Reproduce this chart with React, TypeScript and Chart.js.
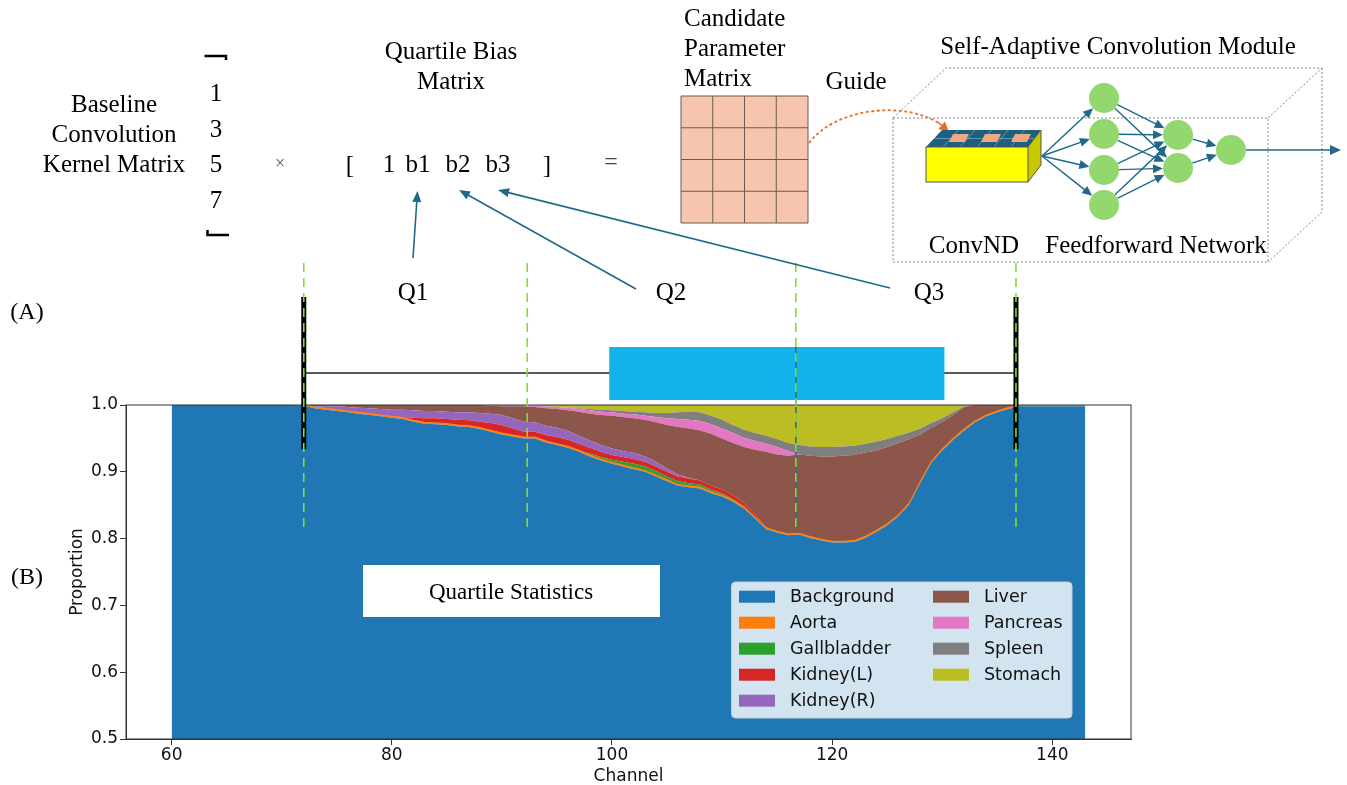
import React, { useEffect, useRef } from "react";
import { Chart, registerables } from "chart.js";

Chart.register(...registerables);

// ---------------- DATA ----------------
const CHANNEL_START = 60;
const CHANNEL_END = 143;
const channels: number[] = [];
for (let c = CHANNEL_START; c <= CHANNEL_END; c++) channels.push(c);

const seriesNames = [
  "Background", "Aorta", "Gallbladder", "Kidney(L)", "Kidney(R)",
  "Liver", "Pancreas", "Spleen", "Stomach",
];
const seriesColors = [
  "#1f77b4", "#ff7f0e", "#2ca02c", "#d62728", "#9467bd",
  "#8c564b", "#e377c2", "#7f7f7f", "#bcbd22",
];

// proportions per channel 60..143 (rows = decades)
const background = [
  1, 1, 1, 1, 1, 1, 1, 1, 1, 1,
  1, 1, 0.999, 0.995, 0.993, 0.991, 0.989, 0.987, 0.985, 0.983,
  0.981, 0.979, 0.975, 0.972, 0.971, 0.970, 0.968, 0.967, 0.964, 0.960,
  0.956, 0.953, 0.950, 0.950, 0.944, 0.940, 0.936, 0.930, 0.923, 0.917,
  0.912, 0.908, 0.904, 0.900, 0.893, 0.886, 0.879, 0.877, 0.875, 0.868,
  0.863, 0.855, 0.845, 0.830, 0.814, 0.809, 0.805, 0.806, 0.801, 0.797,
  0.794, 0.794, 0.795, 0.801, 0.810, 0.820, 0.833, 0.851, 0.883, 0.913,
  0.932, 0.948, 0.962, 0.974, 0.983, 0.989, 0.994, 0.998, 0.998, 0.998,
  0.998, 0.998, 0.998, 0.998,
];
const aorta = [
  0, 0, 0, 0, 0, 0, 0, 0, 0, 0,
  0, 0, 0.001, 0.002, 0.002, 0.002, 0.002, 0.002, 0.002, 0.002,
  0.002, 0.002, 0.002, 0.002, 0.002, 0.002, 0.002, 0.002, 0.002, 0.002,
  0.002, 0.002, 0.002, 0.002, 0.002, 0.002, 0.002, 0.002, 0.002, 0.002,
  0.002, 0.002, 0.002, 0.002, 0.002, 0.002, 0.002, 0.002, 0.002, 0.002,
  0.002, 0.002, 0.002, 0.002, 0.002, 0.002, 0.002, 0.002, 0.002, 0.002,
  0.002, 0.002, 0.002, 0.002, 0.002, 0.002, 0.002, 0.002, 0.002, 0.002,
  0.002, 0.002, 0.002, 0.002, 0.002, 0.002, 0.002, 0.002, 0.002, 0.002,
  0.002, 0.002, 0.002, 0.002,
];
const gallbladder = [
  0, 0, 0, 0, 0, 0, 0, 0, 0, 0,
  0, 0, 0, 0, 0, 0, 0, 0, 0, 0,
  0, 0, 0, 0, 0, 0, 0, 0, 0, 0,
  0, 0, 0, 0, 0, 0, 0, 0, 0.002, 0.003,
  0.004, 0.005, 0.006, 0.006, 0.006, 0.005, 0.005, 0.004, 0.004, 0.003,
  0.003, 0.002, 0.001, 0, 0, 0, 0, 0, 0, 0,
  0, 0, 0, 0, 0, 0, 0, 0, 0, 0,
  0, 0, 0, 0, 0, 0, 0, 0, 0, 0,
  0, 0, 0, 0,
];
const kidneyL = [
  0, 0, 0, 0, 0, 0, 0, 0, 0, 0,
  0, 0, 0, 0, 0, 0, 0, 0, 0, 0,
  0, 0.001, 0.004, 0.006, 0.007, 0.007, 0.008, 0.008, 0.009, 0.011,
  0.012, 0.010, 0.008, 0.008, 0.009, 0.010, 0.010, 0.010, 0.009, 0.008,
  0.007, 0.007, 0.007, 0.007, 0.007, 0.007, 0.007, 0.007, 0.006, 0.006,
  0.006, 0.006, 0.005, 0.004, 0.001, 0, 0, 0, 0, 0,
  0, 0, 0, 0, 0, 0, 0, 0, 0, 0,
  0, 0, 0, 0, 0, 0, 0, 0, 0, 0,
  0, 0, 0, 0,
];
const kidneyR = [
  0, 0, 0, 0, 0, 0, 0, 0, 0, 0,
  0, 0, 0, 0.001, 0.003, 0.005, 0.006, 0.007, 0.008, 0.009,
  0.010, 0.011, 0.011, 0.011, 0.011, 0.011, 0.011, 0.012, 0.013, 0.014,
  0.015, 0.015, 0.015, 0.014, 0.014, 0.014, 0.013, 0.012, 0.011, 0.010,
  0.010, 0.009, 0.009, 0.008, 0.007, 0.005, 0.003, 0.001, 0, 0,
  0, 0, 0, 0, 0, 0, 0, 0, 0, 0,
  0, 0, 0, 0, 0, 0, 0, 0, 0, 0,
  0, 0, 0, 0, 0, 0, 0, 0, 0, 0,
  0, 0, 0, 0,
];
const liver = [
  0, 0, 0, 0, 0, 0, 0, 0, 0, 0,
  0, 0, 0, 0.002, 0.002, 0.002, 0.003, 0.004, 0.005, 0.006,
  0.007, 0.007, 0.008, 0.009, 0.009, 0.010, 0.011, 0.011, 0.012, 0.012,
  0.013, 0.018, 0.023, 0.023, 0.026, 0.028, 0.031, 0.036, 0.040, 0.045,
  0.049, 0.051, 0.052, 0.055, 0.059, 0.065, 0.071, 0.074, 0.075, 0.078,
  0.076, 0.078, 0.084, 0.097, 0.113, 0.115, 0.117, 0.118, 0.121, 0.124,
  0.127, 0.128, 0.128, 0.126, 0.120, 0.115, 0.108, 0.096, 0.071, 0.051,
  0.041, 0.035, 0.033, 0.024, 0.015, 0.009, 0.004, 0, 0, 0,
  0, 0, 0, 0,
];
const pancreas = [
  0, 0, 0, 0, 0, 0, 0, 0, 0, 0,
  0, 0, 0, 0, 0, 0, 0, 0, 0, 0,
  0, 0, 0, 0, 0, 0, 0, 0, 0, 0.001,
  0.002, 0.002, 0.002, 0.002, 0.003, 0.003, 0.004, 0.004, 0.005, 0.005,
  0.005, 0.005, 0.006, 0.006, 0.008, 0.010, 0.012, 0.013, 0.014, 0.014,
  0.015, 0.015, 0.014, 0.013, 0.012, 0.011, 0.007, 0, 0, 0,
  0, 0, 0, 0, 0, 0, 0, 0, 0, 0,
  0, 0, 0, 0, 0, 0, 0, 0, 0, 0,
  0, 0, 0, 0,
];
const spleen = [
  0, 0, 0, 0, 0, 0, 0, 0, 0, 0,
  0, 0, 0, 0, 0, 0, 0, 0, 0, 0,
  0, 0, 0, 0, 0, 0, 0, 0, 0, 0,
  0, 0, 0, 0, 0, 0, 0, 0.001, 0.002, 0.003,
  0.003, 0.004, 0.004, 0.005, 0.006, 0.008, 0.010, 0.012, 0.013, 0.013,
  0.013, 0.012, 0.012, 0.012, 0.012, 0.012, 0.012, 0.014, 0.014, 0.014,
  0.014, 0.014, 0.014, 0.013, 0.013, 0.012, 0.011, 0.010, 0.009, 0.007,
  0.005, 0.004, 0.001, 0, 0, 0, 0, 0, 0, 0,
  0, 0, 0, 0,
];
const stomach = [
  0, 0, 0, 0, 0, 0, 0, 0, 0, 0,
  0, 0, 0, 0, 0, 0, 0, 0, 0, 0,
  0, 0, 0, 0, 0, 0, 0, 0, 0, 0,
  0, 0, 0, 0.001, 0.002, 0.003, 0.004, 0.005, 0.006, 0.007,
  0.008, 0.009, 0.010, 0.011, 0.012, 0.012, 0.011, 0.010, 0.011, 0.016,
  0.022, 0.030, 0.037, 0.042, 0.046, 0.051, 0.057, 0.060, 0.062, 0.063,
  0.063, 0.062, 0.061, 0.058, 0.055, 0.051, 0.046, 0.041, 0.035, 0.027,
  0.020, 0.011, 0.002, 0, 0, 0, 0, 0, 0, 0,
  0, 0, 0, 0,
];
const seriesValues = [
  background, aorta, gallbladder, kidneyL, kidneyR, liver, pancreas, spleen, stomach,
];

const xTicks = [60, 80, 100, 120, 140];
const yTicks = [0.5, 0.6, 0.7, 0.8, 0.9, 1.0];
// quartile marker channels (dashed green lines)
const quartileMarks = [72, 92.3, 116.7, 136.7];
// box plot: whisker low, Q1, median, Q3, whisker high (channels)
const boxStats = [72, 99.75, 116.7, 130.2, 136.7];

// ---------------- DRAW HELPERS ----------------
const TEAL = "#1f6a8a";

function arrow(
  ctx: CanvasRenderingContext2D, x1: number, y1: number, x2: number, y2: number,
  color: string, lw = 1.6, hl = 11, hw = 4.5
) {
  const a = Math.atan2(y2 - y1, x2 - x1);
  const c = Math.cos(a), s = Math.sin(a);
  ctx.save();
  ctx.strokeStyle = color;
  ctx.fillStyle = color;
  ctx.lineWidth = lw;
  ctx.setLineDash([]);
  ctx.beginPath();
  ctx.moveTo(x1, y1);
  ctx.lineTo(x2 - c * hl * 0.7, y2 - s * hl * 0.7);
  ctx.stroke();
  ctx.beginPath();
  ctx.moveTo(x2, y2);
  ctx.lineTo(x2 - hl * c + hw * s, y2 - hl * s - hw * c);
  ctx.lineTo(x2 - hl * c - hw * s, y2 - hl * s + hw * c);
  ctx.closePath();
  ctx.fill();
  ctx.restore();
}

function line(ctx: CanvasRenderingContext2D, pts: number[][]) {
  ctx.beginPath();
  ctx.moveTo(pts[0][0], pts[0][1]);
  for (let i = 1; i < pts.length; i++) ctx.lineTo(pts[i][0], pts[i][1]);
  ctx.stroke();
}

const overlayPlugin = {
  id: "figureOverlay",
  afterDraw(chart: any) {
    const ctx: CanvasRenderingContext2D = chart.ctx;
    const xs = chart.scales.x;
    const px = (v: number) => xs.getPixelForValue(v);
    const area = chart.chartArea;
    ctx.save();

    // axes frame
    ctx.strokeStyle = "#333";
    ctx.lineWidth = 1;
    ctx.setLineDash([]);
    ctx.strokeRect(area.left, area.top, area.right - area.left, area.bottom - area.top);

    // legend
    const lx = 731.5, ly = 582, lw = 340.5, lh = 136;
    ctx.beginPath();
    (ctx as any).roundRect(lx, ly, lw, lh, 4);
    ctx.fillStyle = "rgba(255,255,255,0.8)";
    ctx.fill();
    ctx.strokeStyle = "#cccccc";
    ctx.lineWidth = 1;
    ctx.stroke();
    ctx.font = '17.5px "DejaVu Sans"';
    ctx.textBaseline = "middle";
    ctx.textAlign = "left";
    chart.data.datasets.forEach((ds: any, i: number) => {
      const col = i < 5 ? 0 : 1;
      const row = i < 5 ? i : i - 5;
      const sx = col === 0 ? 739 : 933;
      const cy = 596.7 + row * 26;
      ctx.fillStyle = ds.backgroundColor;
      ctx.fillRect(sx, cy - 6, 36, 12);
      ctx.fillStyle = "#111";
      ctx.fillText(ds.label, sx + 51, cy + 1);
    });

    // Quartile statistics white box
    ctx.fillStyle = "#ffffff";
    ctx.fillRect(363, 565, 297, 52);

    // box plot
    const [wLo, q1, med, q3, wHi] = boxStats;
    ctx.strokeStyle = "#222";
    ctx.lineWidth = 1.3;
    line(ctx, [[px(wLo), 373], [px(wHi), 373]]);
    ctx.fillStyle = "#12b2ea";
    ctx.fillRect(px(q1), 347, px(q3) - px(q1), 53);
    // median line
    ctx.strokeStyle = "#2a6f8f";
    ctx.lineWidth = 1.6;
    line(ctx, [[px(med), 347], [px(med), 528]]);
    // whisker caps
    ctx.fillStyle = "#000";
    [wLo, wHi].forEach((v) => ctx.fillRect(px(v) - 2.5, 297, 5, 152));

    // dashed quartile lines
    ctx.strokeStyle = "#86dc2c";
    ctx.lineWidth = 1.6;
    ctx.setLineDash([9, 6]);
    quartileMarks.forEach((v) => line(ctx, [[px(v), 263], [px(v), 528]]));
    ctx.setLineDash([]);

    // Q arrows
    arrow(ctx, 413, 258, 417.5, 191, TEAL);
    arrow(ctx, 636, 289, 459, 190, TEAL);
    arrow(ctx, 890, 288, 498, 190, TEAL);

    // matrix brackets
    ctx.strokeStyle = "#000";
    ctx.lineWidth = 2.5;
    line(ctx, [[204.5, 56], [226, 56], [226, 60]]);
    line(ctx, [[207.5, 230], [207.5, 235], [229, 235]]);

    // candidate parameter matrix
    const gx = 681, gy = 96, cs = 31.75;
    ctx.fillStyle = "#f6c5ad";
    ctx.fillRect(gx, gy, cs * 4, cs * 4);
    ctx.strokeStyle = "#6d5a50";
    ctx.lineWidth = 1;
    for (let i = 0; i <= 4; i++) {
      line(ctx, [[gx + i * cs, gy], [gx + i * cs, gy + cs * 4]]);
      line(ctx, [[gx, gy + i * cs], [gx + cs * 4, gy + i * cs]]);
    }

    // orange dotted guide curve
    ctx.strokeStyle = "#e5702a";
    ctx.lineWidth = 1.8;
    ctx.setLineDash([3, 2.5]);
    ctx.beginPath();
    ctx.moveTo(809, 143);
    ctx.bezierCurveTo(835, 108, 905, 100, 940, 124);
    ctx.stroke();
    ctx.setLineDash([]);
    arrow(ctx, 938, 122, 949, 132, "#e5702a", 1.5, 10, 5);

    // cube (dashed)
    ctx.strokeStyle = "#888";
    ctx.lineWidth = 1;
    ctx.setLineDash([2, 2]);
    ctx.strokeRect(893, 118, 375, 144);
    line(ctx, [[893, 118], [946, 68], [1322, 68], [1268, 118]]);
    line(ctx, [[1322, 68], [1322, 212], [1268, 262]]);
    ctx.setLineDash([]);

    // ConvND block
    ctx.fillStyle = "#1d5f7c";
    ctx.beginPath();
    ctx.moveTo(926, 147); ctx.lineTo(1028, 147); ctx.lineTo(1041, 130); ctx.lineTo(942, 130);
    ctx.closePath(); ctx.fill();
    ctx.strokeStyle = "#6fa8c0";
    ctx.lineWidth = 0.8;
    for (let i = 1; i < 6; i++) {
      const t = i / 6;
      line(ctx, [[926 + t * 102, 147], [942 + t * 99, 130]]);
    }
    line(ctx, [[934, 138.5], [1034.5, 138.5]]);
    ctx.fillStyle = "#f0a882";
    [[951, 134], [983, 134], [1013, 134]].forEach(([x, y]) => {
      ctx.beginPath();
      ctx.moveTo(x - 2, y + 8); ctx.lineTo(x + 14, y + 8); ctx.lineTo(x + 18, y); ctx.lineTo(x + 2, y);
      ctx.closePath(); ctx.fill();
    });
    ctx.fillStyle = "#ffff00";
    ctx.fillRect(926, 147, 102, 35);
    ctx.fillStyle = "#c8c800";
    ctx.beginPath();
    ctx.moveTo(1028, 147); ctx.lineTo(1041, 130); ctx.lineTo(1041, 165); ctx.lineTo(1028, 182);
    ctx.closePath(); ctx.fill();
    ctx.strokeStyle = "#555";
    ctx.lineWidth = 1;
    ctx.strokeRect(926, 147, 102, 35);
    line(ctx, [[1028, 147], [1041, 130], [1041, 165], [1028, 182]]);

    // feed-forward network
    const r = 15;
    const L1 = [[1104, 98], [1104, 134], [1104, 170], [1104, 205]];
    const L2 = [[1178, 135], [1178, 168]];
    const OUT = [1231, 150];
    const to = (a: number[], b: number[]) => {
      const ang = Math.atan2(b[1] - a[1], b[0] - a[0]);
      return [b[0] - Math.cos(ang) * r, b[1] - Math.sin(ang) * r];
    };
    const src = [1042, 156];
    L1.forEach((n) => { const e = to(src, n); arrow(ctx, src[0], src[1], e[0], e[1], TEAL, 1.5, 10, 4.5); });
    L1.forEach((a) => L2.forEach((b) => {
      const ang = Math.atan2(b[1] - a[1], b[0] - a[0]);
      const s = [a[0] + Math.cos(ang) * r, a[1] + Math.sin(ang) * r];
      const e = to(a, b);
      arrow(ctx, s[0], s[1], e[0], e[1], TEAL, 1.4, 10, 4.5);
    }));
    L2.forEach((a) => {
      const ang = Math.atan2(OUT[1] - a[1], OUT[0] - a[0]);
      const s = [a[0] + Math.cos(ang) * r, a[1] + Math.sin(ang) * r];
      const e = to(a, OUT);
      arrow(ctx, s[0], s[1], e[0], e[1], TEAL, 1.4, 10, 4.5);
    });
    arrow(ctx, OUT[0] + r, OUT[1], 1341, OUT[1], TEAL, 1.6, 11, 5);
    ctx.fillStyle = "#92d86f";
    [...L1, ...L2, OUT].forEach(([x, y]) => {
      ctx.beginPath();
      ctx.ellipse(x, y, r, r, 0, 0, Math.PI * 2);
      ctx.fill();
    });

    ctx.restore();
  },
};

// ---------------- TEXT LABELS ----------------
type Lbl = { t: string; x: number; y: number; s?: number; a?: "c" | "l"; c?: string };
const labels: Lbl[] = [
  { t: "(A)", x: 27, y: 311, s: 24 },
  { t: "(B)", x: 27, y: 576, s: 24 },
  { t: "Baseline", x: 114, y: 103 },
  { t: "Convolution", x: 114, y: 133 },
  { t: "Kernel Matrix", x: 114, y: 163 },
  { t: "1", x: 216, y: 92 },
  { t: "3", x: 216, y: 128 },
  { t: "5", x: 216, y: 163 },
  { t: "7", x: 216, y: 199 },
  { t: "×", x: 280, y: 163, s: 18, c: "#555" },
  { t: "[", x: 350, y: 164 },
  { t: "1", x: 389, y: 163 },
  { t: "b1", x: 418, y: 163 },
  { t: "b2", x: 458, y: 163 },
  { t: "b3", x: 498, y: 163 },
  { t: "]", x: 547, y: 164 },
  { t: "=", x: 611, y: 161, s: 24, c: "#444" },
  { t: "Quartile Bias", x: 451, y: 50 },
  { t: "Matrix", x: 451, y: 80 },
  { t: "Candidate", x: 684, y: 17, a: "l" },
  { t: "Parameter", x: 684, y: 47, a: "l" },
  { t: "Matrix", x: 684, y: 77, a: "l" },
  { t: "Guide", x: 856, y: 80 },
  { t: "Self-Adaptive Convolution Module", x: 1118, y: 45 },
  { t: "ConvND", x: 974, y: 244 },
  { t: "Feedforward Network", x: 1156, y: 244 },
  { t: "Q1", x: 413, y: 291 },
  { t: "Q2", x: 671, y: 291 },
  { t: "Q3", x: 929, y: 291 },
  { t: "Quartile Statistics", x: 511, y: 591, s: 23 },
];

export default function App() {
  const canvasRef = useRef<HTMLCanvasElement | null>(null);

  useEffect(() => {
    if (!canvasRef.current) return;
    const datasets = seriesNames.map((name, i) => ({
      label: name,
      data: channels.map((c, j) => ({ x: c, y: seriesValues[i][j] })),
      backgroundColor: seriesColors[i],
      borderColor: i === 1 ? seriesColors[i] : "rgba(0,0,0,0)",
      borderWidth: i === 1 ? 1.2 : 0.01,
      segment: i === 1
        ? { borderColor: (c: any) => (c.p0.parsed.y === 0 && c.p1.parsed.y === 0 ? "rgba(0,0,0,0)" : seriesColors[1]) }
        : undefined,
      pointRadius: 0,
      pointHoverRadius: 0,
      tension: 0,
      fill: i === 0 ? "start" : "-1",
    }));

    const tickFont = { family: "DejaVu Sans", size: 17 };
    const chart = new Chart(canvasRef.current, {
      type: "line",
      data: { datasets } as any,
      options: {
        animation: false,
        responsive: true,
        maintainAspectRatio: false,
        events: [],
        layout: { padding: { left: 67, right: 216, top: 405, bottom: -2 } },
        plugins: { legend: { display: false }, tooltip: { enabled: false } },
        scales: {
          x: {
            type: "linear",
            min: 55.85,
            max: 147.15,
            afterBuildTicks: (s: any) => { s.ticks = xTicks.map((v) => ({ value: v })); },
            afterFit: (s: any) => { s.height = 48; },
            ticks: {
              font: tickFont, color: "#111", padding: 0, maxRotation: 0, autoSkip: false,
              callback: (v: any) => String(v),
            },
            grid: { drawOnChartArea: false, drawTicks: true, tickLength: 6, color: "#333" },
            border: { display: true, color: "#333" },
            title: { display: true, text: "Channel", font: tickFont, color: "#111", padding: 0 },
          },
          y: {
            stacked: true,
            min: 0.5,
            max: 1.0,
            afterBuildTicks: (s: any) => { s.ticks = yTicks.map((v) => ({ value: v })); },
            afterFit: (s: any) => { s.width = 59; },
            ticks: {
              font: tickFont, color: "#111", padding: 2,
              callback: (v: any) => Number(v).toFixed(1),
            },
            grid: { drawOnChartArea: false, drawTicks: true, tickLength: 6, color: "#333" },
            border: { display: true, color: "#333" },
            title: { display: true, text: "Proportion", font: tickFont, color: "#111", padding: 0 },
          },
        },
      } as any,
      plugins: [overlayPlugin as any],
    });
    return () => chart.destroy();
  }, []);

  return (
    <div style={{ position: "absolute", left: 0, top: 0, width: 1347, height: 785, overflow: "hidden", background: "#fff" }}>
      <div style={{ position: "absolute", left: 0, top: 0, width: 1347, height: 785 }}>
        <canvas ref={canvasRef} />
      </div>
      {labels.map((l, i) => (
        <div
          key={i}
          style={{
            position: "absolute",
            left: l.x,
            top: l.y,
            transform: l.a === "l" ? "translate(0,-50%)" : "translate(-50%,-50%)",
            fontFamily: '"Liberation Serif", "Times New Roman", serif',
            fontSize: l.s ?? 25,
            lineHeight: 1,
            whiteSpace: "nowrap",
            color: l.c ?? "#000",
          }}
        >
          {l.t}
        </div>
      ))}
    </div>
  );
}
